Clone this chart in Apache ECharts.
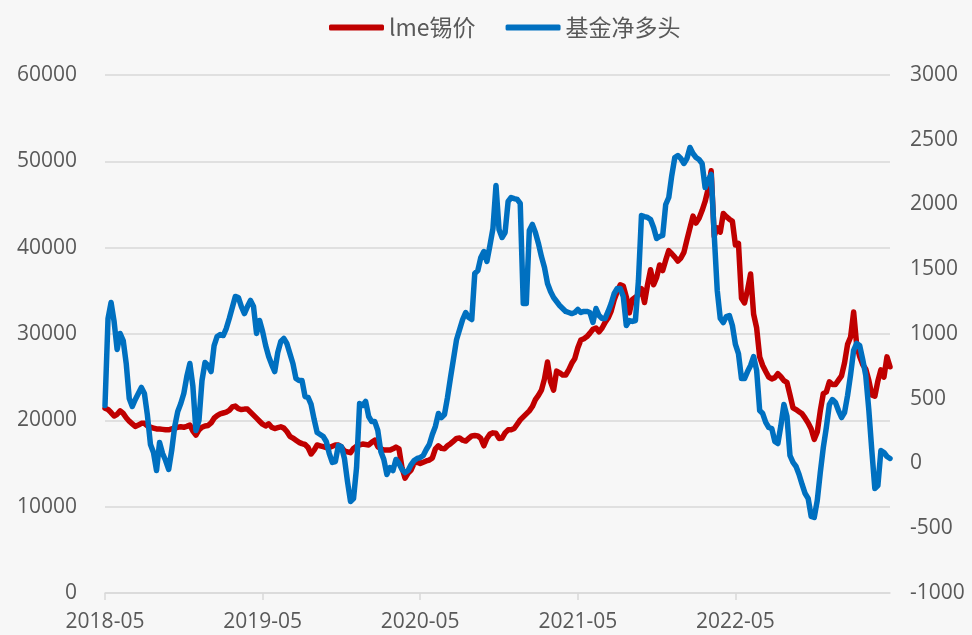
<!DOCTYPE html>
<html>
<head>
<meta charset="utf-8">
<script src="https://cdn.jsdelivr.net/npm/echarts@6/dist/echarts.min.js"></script>
<style>
	html, body { margin: 0; padding: 0; background: #f7f7f7; }
	#chart { width: 972px; height: 635px; }
</style>
</head>
<body>
<div id="chart"></div>
<script>
// 周度数据, 2018-05 起
const startDate = "2018-05-08";
const xTickLabels = ["2018-05", "2019-05", "2020-05", "2021-05", "2022-05"];
const leftTicks = [0, 10000, 20000, 30000, 40000, 50000, 60000];
const rightTicks = [-1000, -500, 0, 500, 1000, 1500, 2000, 2500, 3000];

// lme锡价 (左轴)
const tinPrice = [
	21400, 21250, 20900, 20500, 20700, 21100, 20800, 20300, 19900, 19600,
	19300, 19450, 19650, 19650, 19350, 19200, 19100, 19000, 19000, 18950,
	18900, 18900, 19000, 19100, 19200, 19250, 19200, 19300, 19450, 18750,
	18300, 18900, 19200, 19350, 19400, 19700, 20250, 20550, 20750, 20850,
	20950, 21150, 21550, 21650, 21350, 21250, 21300, 21300, 20950, 20600,
	20250, 19900, 19550, 19350, 19600, 19200, 19050, 19150, 19250, 19100,
	18700, 18150, 17950, 17700, 17450, 17300, 17200, 16850, 16100, 16550,
	17150, 17050, 16950, 16850, 16850, 17000, 17150, 17150, 16900, 16450,
	16350, 16250, 16750, 17000, 17150, 17250, 17200, 17150, 17450, 17700,
	16950, 16700, 16550, 16550, 16550, 16700, 16900, 16700, 14500, 13300,
	13900, 14250, 15050, 15150, 15000, 15150, 15300, 15400, 15650, 16700,
	17050, 16750, 16700, 17050, 17300, 17600, 17900, 17950, 17700, 17600,
	17900, 18200, 18250, 18200, 17900, 17050, 17900, 18400, 18550, 18500,
	17900, 17950, 18550, 18900, 18900, 19050, 19550, 20050, 20400, 20750,
	21100, 21600, 22400, 22900, 23500, 24800, 26750, 24450, 23500, 25700,
	25500, 25250, 25250, 25850, 26600, 27150, 28400, 29300, 29450, 29700,
	30100, 30550, 30700, 30250, 30700, 31350, 31850, 32650, 33950, 34900,
	35700, 35550, 34300, 32450, 34000, 34250, 34550, 35250, 33650, 35700,
	37450, 35700, 36550, 38000, 37350, 38550, 39650, 39300, 38900, 38450,
	38800, 39450, 40900, 42300, 43650, 42850, 43400, 44300, 45350, 46800,
	48900, 41350, 42300, 41800, 43950, 43600, 43300, 43050, 40300, 40500,
	34150, 33600, 35100, 36950, 32300, 30700, 27350, 26350, 25650, 25000,
	24800, 24950, 25400, 25050, 24600, 24400, 22950, 21450, 21250, 21000,
	20750, 20250, 19700, 19000, 17800, 18650, 21100, 23100, 23300, 24450,
	24150, 24150, 24650, 25150, 26650, 28800, 29650, 32550, 28750, 27400,
	26450, 25950, 24650, 22950, 22800, 24550, 25850, 25000, 27350, 26200
];

// 基金净多头 (右轴)
const fundNetLong = [
	448, 1120, 1243, 1097, 880, 1004, 950, 772, 502, 440,
	494, 541, 587, 541, 371, 147, 85, -54, 162, 77,
	23, -46, 100, 286, 402, 463, 541, 672, 772, 595,
	255, 332, 641, 780, 757, 710, 911, 981, 996, 988,
	1042, 1120, 1205, 1290, 1282, 1212, 1158, 1212, 1259, 1212,
	1004, 1104, 1019, 911, 826, 764, 710, 857, 942, 965,
	927, 849, 772, 656, 641, 641, 517, 510, 456, 340,
	239, 224, 208, 170, 77, 8, 15, 139, 131, 39,
	-139, -293, -270, -31, 463, 448, 479, 363, 324, 324,
	255, 93, 31, -85, -31, -54, 31, 0, -46, -70,
	-54, -8, 23, 39, 46, 62, 108, 147, 224, 286,
	386, 355, 378, 510, 664, 811, 958, 1035, 1112, 1166,
	1127, 1112, 1467, 1490, 1591, 1637, 1560, 1683, 1815, 2147,
	1807, 1745, 1784, 2023, 2054, 2046, 2039, 2008, 1236, 1236,
	1799, 1846, 1784, 1699, 1598, 1514, 1390, 1328, 1282, 1251,
	1220, 1197, 1174, 1166, 1158, 1166, 1189, 1166, 1174, 1174,
	1166, 1089, 1197, 1143, 1120, 1120, 1174, 1236, 1313, 1351,
	1351, 1290, 1066, 1104, 1097, 1104, 1413, 1915, 1907, 1900,
	1884, 1822, 1737, 1753, 1761, 2000, 2054, 2224, 2363, 2378,
	2355, 2317, 2355, 2440, 2394, 2363, 2347, 2317, 2131, 2185,
	2232, 1768, 1336, 1120, 1089, 1135, 1143, 1066, 919, 849,
	656, 656, 710, 757, 826, 718, 409, 386, 317, 278,
	270, 170, 154, 293, 456, 363, 62, 8, -23, -85,
	-162, -232, -270, -409, -417, -286, -70, 124, 278, 456,
	494, 471, 409, 355, 394, 525, 687, 873, 927, 911,
	803, 680, 417, 100, -193, -170, 100, 85, 54, 39
];

// 周度日期
const weeks = [];
for (let i = 0; i < tinPrice.length; i++) {
	const d = new Date(startDate + "T00:00:00Z");
	d.setUTCDate(d.getUTCDate() + i * 7);
	weeks.push(d.toISOString().slice(0, 10));
}

const textColor = "#595959";
const gridColor = "#d9d9d9";
const showEvery52 = (index) => index % 52 === 0;
const plainNumber = (v) => String(v);

const myChart = echarts.init(document.getElementById("chart"));
const option = {
	backgroundColor: "#f7f7f7",
	animation: false,
	legend: {
		top: 11,
		left: 324,
		itemWidth: 55,
		itemHeight: 6,
		itemGap: 30,
		icon: "roundRect",
		textStyle: {
			color: textColor,
			fontSize: 23,
			fontFamily: "Noto Sans CJK SC"
		},
		data: ["lme锡价", "基金净多头"]
	},
	grid: {
		left: 105,
		right: 82,
		top: 75,
		bottom: 42
	},
	xAxis: {
		type: "category",
		data: weeks,
		boundaryGap: false,
		axisLine: {
			lineStyle: { color: gridColor, width: 1.5 }
		},
		axisTick: {
			show: true,
			interval: showEvery52,
			length: 7,
			lineStyle: { color: gridColor, width: 1.5 }
		},
		axisLabel: {
			interval: showEvery52,
			margin: 19,
			color: textColor,
			fontSize: 21,
			fontFamily: "Open Sans",
			formatter: (value, index) => xTickLabels[Math.round(index / 52)] || value.slice(0, 7)
		}
	},
	yAxis: [
		{
			type: "value",
			min: leftTicks[0],
			max: leftTicks[leftTicks.length - 1],
			interval: 10000,
			axisLine: { show: false },
			axisTick: { show: false },
			splitLine: {
				lineStyle: { color: gridColor, width: 1.5 }
			},
			axisLabel: {
				margin: 28,
				color: textColor,
				fontSize: 21,
				fontFamily: "Open Sans",
				formatter: plainNumber
			}
		},
		{
			type: "value",
			min: rightTicks[0],
			max: rightTicks[rightTicks.length - 1],
			interval: 500,
			axisLine: { show: false },
			axisTick: { show: false },
			splitLine: { show: false },
			axisLabel: {
				margin: 20,
				color: textColor,
				fontSize: 21,
				fontFamily: "Open Sans",
				formatter: plainNumber
			}
		}
	],
	series: [
		{
			name: "lme锡价",
			type: "line",
			yAxisIndex: 0,
			data: tinPrice,
			showSymbol: false,
			symbol: "none",
			color: "#c00000",
			lineStyle: { color: "#c00000", width: 5.5, join: "round", cap: "round" }
		},
		{
			name: "基金净多头",
			type: "line",
			yAxisIndex: 1,
			data: fundNetLong,
			showSymbol: false,
			symbol: "none",
			color: "#0070c0",
			lineStyle: { color: "#0070c0", width: 5.5, join: "round", cap: "round" }
		}
	]
};
myChart.setOption(option);
</script>
</body>
</html>
